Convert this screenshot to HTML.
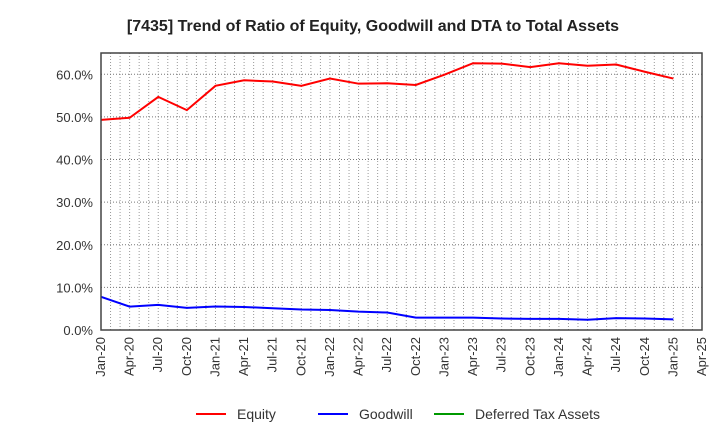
<!DOCTYPE html>
<html><head><meta charset="utf-8"><style>
body{margin:0;background:#fff;font-family:"Liberation Sans",sans-serif;}
</style></head><body>
<svg width="720" height="440" xmlns="http://www.w3.org/2000/svg" id="c">
<text x="373" y="31" text-anchor="middle" font-size="16" font-weight="bold" fill="#222">[7435]  Trend of Ratio of Equity, Goodwill and DTA to Total Assets</text>
<g id="grid"></g><g id="axes"></g><g id="series"></g><g id="frame"></g>
<g font-size="14" fill="#333">
<line x1="196" y1="414" x2="226" y2="414" stroke="#f00" stroke-width="2"/><text x="237" y="419">Equity</text>
<line x1="318" y1="414" x2="348" y2="414" stroke="#00f" stroke-width="2"/><text x="359" y="419">Goodwill</text>
<line x1="434" y1="414" x2="464" y2="414" stroke="#090" stroke-width="2"/><text x="475" y="419">Deferred Tax Assets</text>
</g>
</svg>
<script>
const categories=["Jan-20","Apr-20","Jul-20","Oct-20","Jan-21","Apr-21","Jul-21","Oct-21","Jan-22","Apr-22","Jul-22","Oct-22","Jan-23","Apr-23","Jul-23","Oct-23","Jan-24","Apr-24","Jul-24","Oct-24","Jan-25"];
const tickLabels=["Jan-20","Apr-20","Jul-20","Oct-20","Jan-21","Apr-21","Jul-21","Oct-21","Jan-22","Apr-22","Jul-22","Oct-22","Jan-23","Apr-23","Jul-23","Oct-23","Jan-24","Apr-24","Jul-24","Oct-24","Jan-25","Apr-25"];
const equity=[49.3,49.8,54.7,51.6,57.3,58.6,58.3,57.3,59.0,57.8,57.9,57.5,59.9,62.6,62.5,61.7,62.6,62.0,62.3,60.6,59.0];
const goodwill=[7.8,5.5,5.9,5.2,5.5,5.4,5.1,4.8,4.7,4.3,4.1,2.9,2.9,2.9,2.7,2.6,2.6,2.4,2.8,2.7,2.5];
const dta=[0,0,0,0,0,0,0,0,0,0,0,0,0,0,0,0,0,0,0,0,0];
const yTicks=[0,10,20,30,40,50,60];
const L=101,R=702,T=53,B=330,yMax=65;
const NS="http://www.w3.org/2000/svg";
const xs=i=>L+(R-L)*i/(tickLabels.length-1);
const ys=v=>B-(B-T)*v/yMax;
function mk(p,t,a){const e=document.createElementNS(NS,t);for(const k in a)e.setAttribute(k,a[k]);document.getElementById(p).appendChild(e);return e;}
const months=(tickLabels.length-1)*3;
for(let m=1;m<months;m++){const x=L+(R-L)*m/months;
const e=mk("grid","line",{x1:x,x2:x,y1:T,y2:B,stroke:"#999","stroke-dasharray":"1,2","stroke-width":1});

}
yTicks.forEach(v=>{const y=ys(v);
const g=mk("grid","line",{x1:L,x2:R,y1:y,y2:y,stroke:"#777","stroke-dasharray":"1,2"});


const t=mk("axes","text",{x:L-8,y:y+5,"text-anchor":"end","font-size":13,fill:"#333"});t.textContent=v.toFixed(1)+"%";

});
tickLabels.forEach((s,i)=>{const x=xs(i);
const t=mk("axes","text",{transform:`translate(${x+4},${B+7}) rotate(-90)`,"text-anchor":"end","font-size":13,fill:"#333"});t.textContent=s;

});
[[dta,"#090","dta-line",1],[goodwill,"#00f","goodwill-line",2],[equity,"#f00","equity-line",2]].forEach(([d,c,n,w])=>{
const p=mk("series","polyline",{points:d.map((v,i)=>xs(i)+","+ys(v)).join(" "),fill:"none",stroke:c,"stroke-width":w});

});
const fr=mk("frame","rect",{x:L,y:T,width:R-L,height:B-T,fill:"none",stroke:"#444","stroke-width":1.5});


</script>
</body></html>
